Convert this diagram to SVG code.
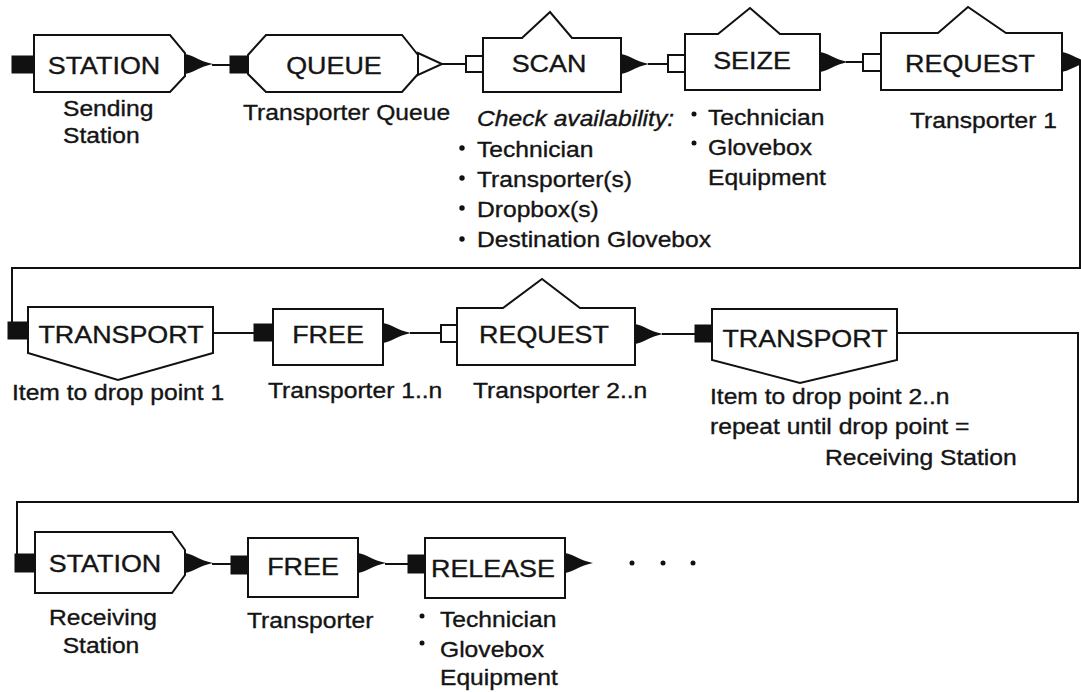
<svg xmlns="http://www.w3.org/2000/svg" xmlns:xlink="http://www.w3.org/1999/xlink" width="1081" height="692" viewBox="0 0 1081 692">
  <style>
    .box { fill: #fff; stroke: #111; stroke-width: 2; stroke-linejoin: miter; }
    .wire { fill: none; stroke: #111; stroke-width: 2; }
    .port { fill: #111; stroke: #111; stroke-width: 1; }
    .hport { fill: #fff; stroke: #111; stroke-width: 2; }
    .dot { fill: #111; }
    text { font-family: "Liberation Sans", Arial, Helvetica, sans-serif; fill: #141414;
           stroke: #141414; stroke-width: 0.35;
           transform-box: fill-box; transform-origin: 0% 50%; transform: scaleX(1.12); }
    .lbl { font-size: 24px; text-anchor: middle; transform-origin: 50% 50%; }
    .sub { font-size: 22px; }
    .subc { font-size: 22px; text-anchor: middle; transform-origin: 50% 50%; }
    .it { font-style: italic; }
  </style>
  <defs>
    <!-- solid exit arrowhead: full at the base, tapering to a point -->
    <path id="ah" d="M0,-10 C9,-8.5 14,-3 28,0 C14,3 9,8.5 0,10 Z" fill="#111"/>
  </defs>

  <rect width="1081" height="692" fill="#fff"/>

  <!-- connectors -->
  <g id="connectors">
    <!-- row 1 -->
    <use href="#ah" x="185" y="64"/>
    <line class="wire" x1="212" y1="65" x2="231" y2="65"/>
    <polygon points="418,53 442,64 418,75" fill="#fff" stroke="#111" stroke-width="2"/>
    <line class="wire" x1="442" y1="64" x2="466" y2="64"/>
    <use href="#ah" x="621" y="64"/>
    <line class="wire" x1="648" y1="64" x2="668" y2="64"/>
    <use href="#ah" x="820" y="62"/>
    <line class="wire" x1="846" y1="62" x2="863" y2="62"/>
    <use href="#ah" x="1062" y="62"/>
    <!-- wrap from row 1 to row 2 -->
    <polyline class="wire" points="1080,62 1080,268 12,268 12,323"/>
    <!-- row 2 -->
    <line class="wire" x1="213" y1="333" x2="254" y2="333"/>
    <use href="#ah" x="383" y="333"/>
    <line class="wire" x1="410" y1="333" x2="441" y2="333"/>
    <use href="#ah" x="635" y="334"/>
    <line class="wire" x1="662" y1="334" x2="695" y2="334"/>
    <!-- wrap from row 2 to row 3 -->
    <polyline class="wire" points="897,333 1078,333 1078,502 17,502 17,554"/>
    <!-- row 3 -->
    <use href="#ah" x="185" y="563"/>
    <line class="wire" x1="212" y1="564" x2="231" y2="564"/>
    <use href="#ah" x="358" y="563"/>
    <line class="wire" x1="385" y1="564" x2="408" y2="564"/>
    <use href="#ah" x="565" y="563"/>
    <circle class="dot" cx="632" cy="563" r="2.5"/>
    <circle class="dot" cx="663" cy="563" r="2.5"/>
    <circle class="dot" cx="693" cy="563" r="2.5"/>
  </g>

  <!-- row 1 -->
  <g id="station-send">
    <rect class="port" x="12" y="56" width="22" height="17"/>
    <polygon class="box" points="34,35 170,35 185,53 185,76 170,92 34,92"/>
    <text class="lbl" x="104" y="74">STATION</text>
    <text class="sub" x="63" y="116">Sending</text>
    <text class="sub" x="63" y="143">Station</text>
  </g>

  <g id="queue">
    <rect class="port" x="230" y="56" width="18" height="17"/>
    <polygon class="box" points="266,35 402,35 418,55 418,74 402,92 266,92 248,74 248,55"/>
    <text class="lbl" x="334" y="74">QUEUE</text>
    <text class="sub" x="243" y="120">Transporter Queue</text>
  </g>

  <g id="scan">
    <rect class="hport" x="466" y="56" width="17" height="16"/>
    <path class="box" d="M483,38 H522 L550,12 L572,38 H621 V92 H483 Z"/>
    <text class="lbl" x="549" y="72">SCAN</text>
    <text class="sub it" x="477" y="126">Check availability:</text>
    <circle class="dot" cx="462" cy="148" r="2.7"/>
    <text class="sub" x="477" y="157">Technician</text>
    <circle class="dot" cx="462" cy="178" r="2.7"/>
    <text class="sub" x="477" y="187">Transporter(s)</text>
    <circle class="dot" cx="462" cy="208" r="2.7"/>
    <text class="sub" x="477" y="217">Dropbox(s)</text>
    <circle class="dot" cx="462" cy="239" r="2.7"/>
    <text class="sub" x="477" y="247">Destination Glovebox</text>
  </g>

  <g id="seize">
    <rect class="hport" x="668" y="55" width="17" height="17"/>
    <path class="box" d="M685,34 H718 L750,8 L780,34 H820 V90 H685 Z"/>
    <text class="lbl" x="752" y="69">SEIZE</text>
    <circle class="dot" cx="694" cy="114" r="2.5"/>
    <text class="sub" x="708" y="125">Technician</text>
    <circle class="dot" cx="694" cy="143" r="2.5"/>
    <text class="sub" x="708" y="155">Glovebox</text>
    <text class="sub" x="708" y="185">Equipment</text>
  </g>

  <g id="request-1">
    <rect class="hport" x="863" y="54" width="18" height="17"/>
    <path class="box" d="M881,33 H938 L968,7 L1006,33 H1062 V90 H881 Z"/>
    <text class="lbl" x="970" y="72">REQUEST</text>
    <text class="sub" x="910" y="128">Transporter 1</text>
  </g>

  <!-- row 2 -->
  <g id="transport-1">
    <rect class="port" x="8" y="322" width="20" height="17"/>
    <polygon class="box" points="28,307 213,307 213,353 118,380 28,353"/>
    <text class="lbl" x="121" y="343">TRANSPORT</text>
    <text class="sub" x="12" y="400">Item to drop point 1</text>
  </g>

  <g id="free-1">
    <rect class="port" x="254" y="324" width="19" height="17"/>
    <rect class="box" x="273" y="309" width="110" height="56"/>
    <text class="lbl" x="328" y="343">FREE</text>
    <text class="sub" x="268" y="398">Transporter 1..n</text>
  </g>

  <g id="request-2">
    <rect class="hport" x="441" y="325" width="16" height="17"/>
    <path class="box" d="M457,308 H503 L542,279 L580,308 H635 V365 H457 Z"/>
    <text class="lbl" x="544" y="343">REQUEST</text>
    <text class="sub" x="473" y="398">Transporter 2..n</text>
  </g>

  <g id="transport-2">
    <rect class="port" x="695" y="325" width="17" height="17"/>
    <polygon class="box" points="712,309 897,309 897,360 800,383 712,360"/>
    <text class="lbl" x="805" y="347">TRANSPORT</text>
    <text class="sub" x="710" y="404">Item to drop point 2..n</text>
    <text class="sub" x="710" y="434">repeat until drop point =</text>
    <text class="sub" x="825" y="465">Receiving Station</text>
  </g>

  <!-- row 3 -->
  <g id="station-receive">
    <rect class="port" x="15" y="554" width="20" height="18"/>
    <polygon class="box" points="35,532 172,532 185,550 185,575 172,593 35,593"/>
    <text class="lbl" x="105" y="572">STATION</text>
    <text class="subc" x="103" y="625">Receiving</text>
    <text class="subc" x="101" y="653">Station</text>
  </g>

  <g id="free-2">
    <rect class="port" x="231" y="556" width="17" height="18"/>
    <rect class="box" x="248" y="538" width="110" height="59"/>
    <text class="lbl" x="303" y="575">FREE</text>
    <text class="sub" x="247" y="628">Transporter</text>
  </g>

  <g id="release">
    <rect class="port" x="408" y="555" width="17" height="18"/>
    <rect class="box" x="425" y="538" width="140" height="60"/>
    <text class="lbl" x="493" y="577">RELEASE</text>
    <circle class="dot" cx="422" cy="616" r="2.5"/>
    <text class="sub" x="440" y="627">Technician</text>
    <circle class="dot" cx="422" cy="643" r="2.5"/>
    <text class="sub" x="440" y="657">Glovebox</text>
    <text class="sub" x="440" y="685">Equipment</text>
  </g>
</svg>
